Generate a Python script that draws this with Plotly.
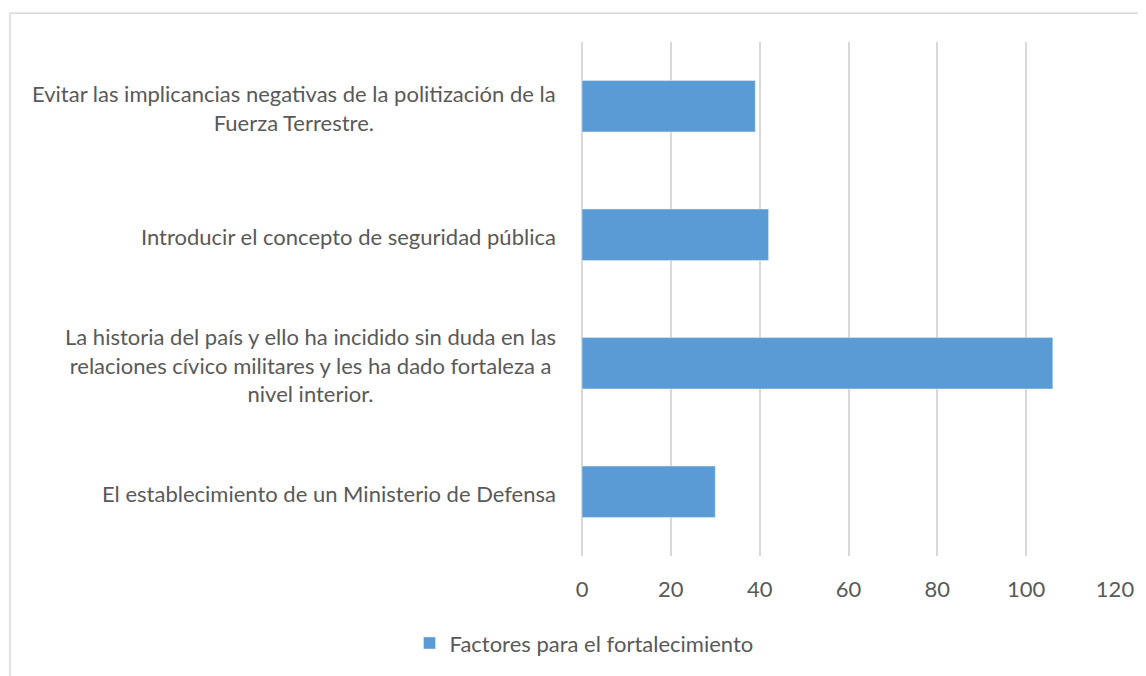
import plotly.graph_objects as go

categories = [
    "El establecimiento de un Ministerio de Defensa",
    "La historia del país y ello ha incidido sin duda en las<br>relaciones cívico militares y les ha dado fortaleza a<br>nivel interior.",
    "Introducir el concepto de seguridad pública",
    "Evitar las implicancias negativas de la politización de la<br>Fuerza Terrestre.",
]
values = [30, 106, 42, 39]
series_name = "Factores para el fortalecimiento"
x_ticks = [0, 20, 40, 60, 80, 100, 120]

FONT = "Lato"
FS = 22
TXT = "#595959"
GRID = "#d9d9d9"
BAR = "#5b9bd5"

# page body has an 8px margin; work in page pixels and convert
OFF = 8
W, H = 1146 - OFF, 676 - OFF
PL, PR, PT, PB = 582, 1115, 42, 562.7   # plot area in page pixels
L = PL - OFF
R = W - (PR - OFF)
T = PT - OFF
B = H - (PB - OFF)
pw = PR - PL
ph = PB - PT

def px_to_paper_x(px):
    return (px - PL) / pw

def py_to_paper_y(py):
    return 1 - (py - PT) / ph

fig = go.Figure()
fig.add_trace(go.Bar(
    y=list(range(len(categories))),
    x=values,
    orientation="h",
    name=series_name,
    marker=dict(color=BAR),
    showlegend=True,
))

annotations = []
for i, c in enumerate(categories):
    annotations.append(dict(
        x=px_to_paper_x(558), xref="paper", y=i, yref="y", yshift=-2,
        text=c, showarrow=False, xanchor="right", yanchor="middle",
        align="center", font=dict(family=FONT, size=FS, color=TXT),
    ))

fig.update_layout(
    width=W, height=H,
    margin=dict(l=L, r=R, t=T, b=B),
    paper_bgcolor="white",
    plot_bgcolor="white",
    bargap=0.6,
    font=dict(family=FONT, size=FS, color=TXT),
    xaxis=dict(
        range=[0, 120], tickvals=x_ticks, showgrid=True, gridcolor=GRID,
        gridwidth=1.5, zeroline=True, zerolinecolor=GRID, zerolinewidth=1.5,
        showline=False, ticks="", ticklabelstandoff=18,
        tickfont=dict(family=FONT, size=FS, color=TXT),
    ),
    yaxis=dict(
        range=[-0.5, 3.5], showticklabels=False, showgrid=False,
        zeroline=False, showline=False,
    ),
    legend=dict(
        orientation="h", x=px_to_paper_x(584), xanchor="center",
        y=py_to_paper_y(651), yanchor="middle",
        font=dict(family=FONT, size=FS, color=TXT), itemwidth=30,
    ),
    annotations=annotations,
    shapes=[dict(
        type="rect", xref="paper", yref="paper",
        x0=px_to_paper_x(10), x1=px_to_paper_x(1170),
        y0=py_to_paper_y(700), y1=py_to_paper_y(13),
        line=dict(color=GRID, width=1.5), fillcolor="rgba(0,0,0,0)",
        layer="below",
    )],
)

fig.write_html("out.html")
